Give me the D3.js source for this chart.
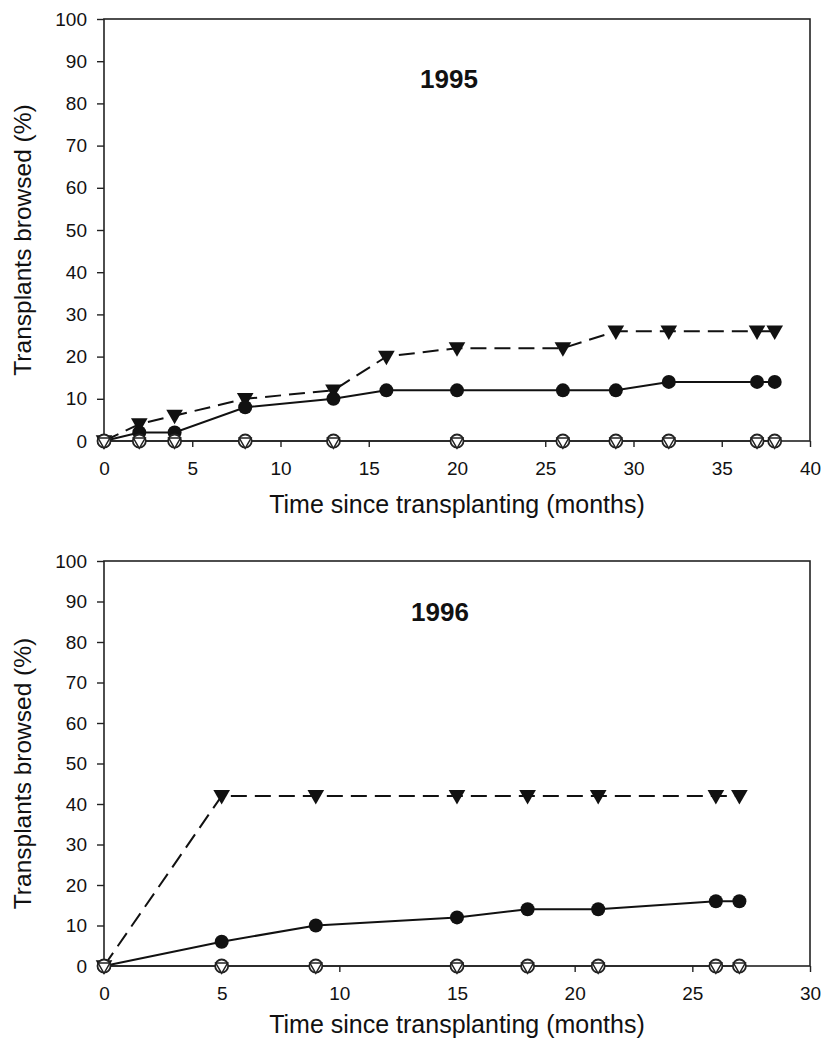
<!DOCTYPE html>
<html>
<head>
<meta charset="utf-8">
<script src="https://cdn.jsdelivr.net/npm/d3@7"></script>
<style>
  body { margin: 0; background: #fff; }
  svg { display: block; font-family: "Liberation Sans", Arial, sans-serif; }
</style>
</head>
<body>
<svg id="chart" width="824" height="1039"></svg>
<script>
// 1995 cohort
const months95 = [0, 2, 4, 8, 13, 16, 20, 26, 29, 32, 37, 38];
const circles95 = [0, 2, 2, 8, 10, 12, 12, 12, 12, 14, 14, 14];
const triangles95 = [0, 4, 6, 10, 12, 20, 22, 22, 26, 26, 26, 26];
const openMonths95 = [0, 2, 4, 8, 13, 20, 26, 29, 32, 37, 38];
const open95 = [0, 0, 0, 0, 0, 0, 0, 0, 0, 0, 0];

// 1996 cohort
const months96 = [0, 5, 9, 15, 18, 21, 26, 27];
const circles96 = [0, 6, 10, 12, 14, 14, 16, 16];
const triangles96 = [0, 42, 42, 42, 42, 42, 42, 42];
const openMonths96 = [0, 5, 9, 15, 18, 21, 26, 27];
const open96 = [0, 0, 0, 0, 0, 0, 0, 0];

const yTicks = [0, 10, 20, 30, 40, 50, 60, 70, 80, 90, 100];
const xTicks95 = [0, 5, 10, 15, 20, 25, 30, 35, 40];
const xTicks96 = [0, 5, 10, 15, 20, 25, 30];

const svg = d3.select("#chart");

function panel(cfg) {
  const x = d3.scaleLinear().domain(cfg.xDomain).range([104, 810]);
  const y = d3.scaleLinear().domain([0, 100]).range([cfg.bottom, cfg.top]);
  const g = svg.append("g");

  // frame
  g.append("rect")
    .attr("x", x.range()[0]).attr("y", y(100))
    .attr("width", x.range()[1] - x.range()[0])
    .attr("height", y(0) - y(100))
    .attr("fill", "none").attr("stroke", "#222").attr("stroke-width", 1.6);

  const ya = g.append("g").attr("transform", `translate(${x.range()[0]},0)`)
    .call(d3.axisLeft(y).tickValues(yTicks).tickSize(7).tickPadding(10));
  const xa = g.append("g").attr("transform", `translate(0,${y(0)})`)
    .call(d3.axisBottom(x).tickValues(cfg.xTicks).tickSize(6).tickPadding(15));
  [ya, xa].forEach(a => {
    a.select(".domain").remove();
    a.selectAll("line").attr("stroke", "#222").attr("stroke-width", 1.4);
    a.selectAll("text").attr("font-size", 19).attr("fill", "#111")
      .attr("font-family", "Liberation Sans, Arial, sans-serif");
  });

  // axis titles
  g.append("text")
    .attr("transform", `translate(22,${(y(0) + y(100)) / 2 + 10}) rotate(-90)`)
    .attr("text-anchor", "middle").attr("dominant-baseline", "central")
    .attr("font-size", 24.5).attr("fill", "#111")
    .text("Transplants browsed (%)");
  g.append("text")
    .attr("x", (x.range()[0] + x.range()[1]) / 2).attr("y", cfg.xTitleY)
    .attr("text-anchor", "middle")
    .attr("font-size", 25).attr("fill", "#111")
    .text("Time since transplanting (months)");

  // year label
  g.append("text")
    .attr("x", cfg.yearX).attr("y", cfg.yearY)
    .attr("text-anchor", "middle")
    .attr("font-size", 26).attr("font-weight", "bold").attr("fill", "#111")
    .text(cfg.year);

  const line = d3.line().x(d => x(d[0])).y(d => y(d[1]));
  const tri = d3.symbol().type(d3.symbolTriangle);

  // open series along the baseline
  const openPts = d3.zip(cfg.openMonths, cfg.open);
  g.append("path").datum(openPts).attr("d", line)
    .attr("fill", "none").attr("stroke", "#222").attr("stroke-width", 1.4);

  // filled triangles, dashed line
  const triPts = d3.zip(cfg.months, cfg.triangles);
  g.append("path").datum(triPts).attr("d", line)
    .attr("fill", "none").attr("stroke", "#111").attr("stroke-width", 2)
    .attr("stroke-dasharray", "16,8");

  // filled circles, solid line
  const cirPts = d3.zip(cfg.months, cfg.circles);
  g.append("path").datum(cirPts).attr("d", line)
    .attr("fill", "none").attr("stroke", "#111").attr("stroke-width", 2);

  g.selectAll(".tri").data(triPts).join("path")
    .attr("transform", d => `translate(${x(d[0])},${y(d[1]) - 1}) rotate(180)`)
    .attr("d", tri.size(120)).attr("fill", "#111");

  g.selectAll(".cir").data(cirPts).join("circle")
    .attr("cx", d => x(d[0])).attr("cy", d => y(d[1]))
    .attr("r", 7).attr("fill", "#111");

  // open circles with open triangles inside
  g.selectAll(".ocir").data(openPts).join("circle")
    .attr("cx", d => x(d[0])).attr("cy", d => y(d[1]))
    .attr("r", 6.5).attr("fill", "#fff").attr("stroke", "#222").attr("stroke-width", 1.8);
  g.selectAll(".otri").data(openPts).join("path")
    .attr("transform", d => `translate(${x(d[0])},${y(d[1]) + 0.5}) rotate(180)`)
    .attr("d", tri.size(60)).attr("fill", "#fff").attr("stroke", "#222").attr("stroke-width", 1.5);
}

panel({
  year: "1995", xDomain: [0, 40], xTicks: xTicks95, top: 19, bottom: 441,
  months: months95, circles: circles95, triangles: triangles95,
  openMonths: openMonths95, open: open95, yearX: 449, yearY: 88, xTitleY: 513
});
panel({
  year: "1996", xDomain: [0, 30], xTicks: xTicks96, top: 561, bottom: 966,
  months: months96, circles: circles96, triangles: triangles96,
  openMonths: openMonths96, open: open96, yearX: 440, yearY: 621, xTitleY: 1033
});
</script>
</body>
</html>
